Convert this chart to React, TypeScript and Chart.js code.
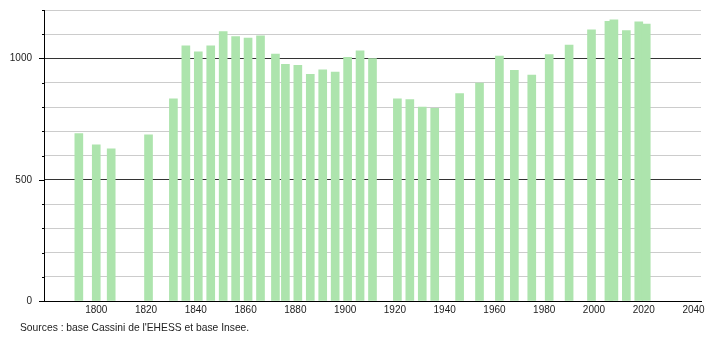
import React, { useEffect, useRef } from "react";
import { Chart, registerables } from "chart.js";

Chart.register(...registerables);

const years = [
  1793, 1800, 1806, 1821, 1831, 1836, 1841, 1846, 1851, 1856, 1861, 1866, 1872,
  1876, 1881, 1886, 1891, 1896, 1901, 1906, 1911, 1921, 1926, 1931, 1936, 1946,
  1954, 1962, 1968, 1975, 1982, 1990, 1999, 2006, 2008, 2013, 2018, 2021,
];
const population = [
  690, 644, 627, 685, 834, 1052, 1027, 1052, 1111, 1090, 1084, 1094, 1018,
  976, 972, 935, 953, 944, 1005, 1032, 1000, 834, 831, 800, 795, 855,
  899, 1010, 951, 932, 1016, 1055, 1118, 1153, 1159, 1115, 1151, 1142,
];
const xTickLabels = [1800, 1820, 1840, 1860, 1880, 1900, 1920, 1940, 1960, 1980, 2000, 2020, 2040];
const yLabelValues = [0, 500, 1000];
const sourceText = "Sources : base Cassini de l'EHESS et base Insee.";

const FONT = "'Liberation Sans', Arial, sans-serif";

const yTickMarks = {
  id: "yTickMarks",
  afterDraw(chart: any) {
    const y = chart.scales.y;
    const ctx = chart.ctx;
    const left = chart.chartArea.left;
    ctx.save();
    ctx.strokeStyle = "#000";
    ctx.lineWidth = 1;
    for (let v = 0; v <= 1200; v += 100) {
      const py = Math.round(y.getPixelForValue(v)) + 0.5;
      const len = v % 500 === 0 ? 5 : 2;
      ctx.beginPath();
      ctx.moveTo(left - len, py);
      ctx.lineTo(left, py);
      ctx.stroke();
    }
    ctx.restore();
  },
};

export default function App() {
  const ref = useRef<HTMLCanvasElement>(null);
  useEffect(() => {
    document.body.style.margin = "0";
    const data = years.map((yr, i) => ({ x: yr, y: population[i] }));
    const chart = new Chart(ref.current!, {
      type: "bar",
      data: {
        datasets: [
          {
            data: data as any,
            backgroundColor: "#ade4ad",
            borderWidth: 0,
            barThickness: 8,
          },
        ],
      },
      plugins: [yTickMarks],
      options: {
        animation: false,
        responsive: false,
        maintainAspectRatio: false,
        layout: { padding: { top: 10, right: 9, left: 0, bottom: 0 } },
        plugins: {
          legend: { display: false },
          tooltip: { enabled: false },
        },
        scales: {
          x: {
            type: "linear",
            offset: false,
            min: 1779,
            max: 2043,
            afterBuildTicks: (axis: any) => {
              axis.ticks = xTickLabels.map((v) => ({ value: v }));
            },
            afterFit: (axis: any) => {
              axis.height = 39;
              axis.paddingLeft = 0;
              axis.paddingRight = 0;
            },
            grid: { display: false, drawTicks: false, offset: false },
            border: { display: true, color: "#000", width: 1 },
            ticks: {
              padding: 3,
              color: "#222",
              font: { family: FONT, size: 10 },
              maxRotation: 0,
              autoSkip: false,
              callback: (v: any) => String(v),
            },
          },
          y: {
            min: 0,
            max: 1200,
            afterFit: (axis: any) => {
              axis.width = 44;
              axis.paddingTop = 0;
              axis.paddingBottom = 0;
            },
            afterBuildTicks: (axis: any) => {
              const t = [];
              for (let v = 0; v <= 1200; v += 100) t.push({ value: v });
              axis.ticks = t;
            },
            grid: {
              drawTicks: false,
              color: (c: any) =>
                c.tick && c.tick.value % 500 === 0 ? "#333" : "#cccccc",
              lineWidth: 1,
            },
            border: { display: true, color: "#000", width: 1 },
            ticks: {
              padding: 12,
              color: "#222",
              font: { family: FONT, size: 10 },
              autoSkip: false,
              callback: (v: any) => (yLabelValues.includes(v) ? String(v) : ""),
            },
          },
        },
      },
    });
    return () => chart.destroy();
  }, []);
  return (
    <div style={{ position: "relative", width: 710, height: 340 }}>
      <canvas ref={ref} width={710} height={340} style={{ width: 710, height: 340, display: "block" }} />
      <div
        style={{
          position: "absolute",
          left: 20,
          top: 322,
          font: `10.3px ${FONT}`,
          color: "#222",
          whiteSpace: "nowrap",
        }}
      >
        {sourceText}
      </div>
    </div>
  );
}
